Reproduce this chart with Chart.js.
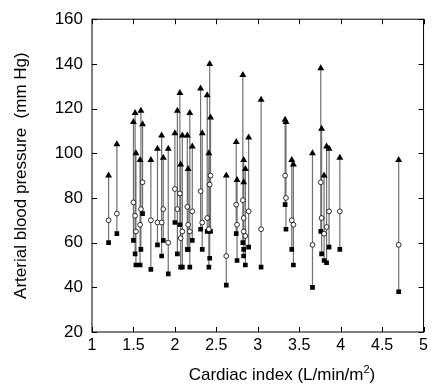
<!DOCTYPE html>
<html>
<head>
<meta charset="utf-8">
<script src="https://cdn.jsdelivr.net/npm/chart.js@4/dist/chart.umd.min.js"></script>
<style>
  body { margin: 0; background: #fff; }
  canvas { display: block; }
</style>
</head>
<body>
<canvas id="bp" width="432" height="391"></canvas>
<script>
// cardiac index for each subject (L/min/m2)
const cardiacIndex = [1.20, 1.30, 1.50, 1.52, 1.53, 1.58, 1.59, 1.61, 1.71, 1.79, 1.84, 1.86, 1.92,
  2.00, 2.03, 2.06, 2.07, 2.09, 2.15, 2.16, 2.18, 2.21, 2.31, 2.33, 2.39, 2.42, 2.43, 2.41,
  2.62, 2.74, 2.75, 2.82, 2.83, 2.83, 2.85, 2.89, 3.04, 3.33, 3.34, 3.41, 3.43, 3.66,
  3.76, 3.77, 3.80, 3.83, 3.86, 3.99, 4.70];
// systolic / mean / diastolic pressure (mm Hg)
const systolic = [90, 104, 114, 118, 100, 97, 119, 113, 97, 102, 108, 98, 102,
  109, 119, 127, 95, 108, 108, 93, 118, 103, 129, 109, 126, 140, 116, 100,
  90, 105, 88, 135, 97, 87, 93, 107, 124, 115, 114, 97, 95, 100,
  138, 111, 90, 103, 102, 98, 97];
const mean = [70, 73, 78, 72, 65, 68, 75, 87, 70, 69, 69, 75, 60,
  84, 75, 82, 62, 65, 76, 68, 65, 74, 83, 69, 71, 86, 90, 66,
  54, 77, 68, 79, 71, 65, 63, 74, 66, 90, 80, 70, 68, 59,
  87, 71, 64, 67, 74, 74, 59];
const diastolic = [60, 64, 61, 55, 50, 50, 57, 73, 48, 59, 54, 61, 46,
  69, 55, 68, 49, 49, 57, 57, 49, 61, 66, 57, 65, 53, 65, 49,
  41, 64, 52, 60, 57, 54, 50, 58, 49, 77, 66, 57, 50, 40,
  65, 55, 52, 51, 58, 57, 38];

const xTicks = [1, 1.5, 2, 2.5, 3, 3.5, 4, 4.5, 5];
const yTicks = [20, 40, 60, 80, 100, 120, 140, 160];

const FONT = "'Liberation Sans', Arial, sans-serif";

// vertical range lines, broken with nulls between subjects
const rangeLines = [];
cardiacIndex.forEach((x, i) => {
  rangeLines.push({ x: x, y: diastolic[i] });
  rangeLines.push({ x: x, y: systolic[i] });
  rangeLines.push({ x: x, y: null });
});
const pts = (arr) => cardiacIndex.map((x, i) => ({ x: x, y: arr[i] }));

// box + inward ticks + axis titles
const framePlugin = {
  id: 'frame',
  afterDraw(chart) {
    const { ctx, chartArea: a, scales } = chart;
    ctx.save();
    ctx.strokeStyle = '#000';
    ctx.lineWidth = 1;
    ctx.strokeRect(a.left, a.top, a.right - a.left, a.bottom - a.top);
    ctx.beginPath();
    xTicks.forEach(v => {
      const px = Math.round(scales.x.getPixelForValue(v)) + 0.5;
      ctx.moveTo(px, a.bottom); ctx.lineTo(px, a.bottom - 5);
      ctx.moveTo(px, a.top); ctx.lineTo(px, a.top + 5);
    });
    yTicks.forEach(v => {
      const py = Math.round(scales.y.getPixelForValue(v)) + 0.5;
      ctx.moveTo(a.left, py); ctx.lineTo(a.left + 5, py);
      ctx.moveTo(a.right, py); ctx.lineTo(a.right - 5, py);
    });
    ctx.stroke();

    ctx.fillStyle = '#000';
    ctx.font = '17px ' + FONT;
    // y title
    ctx.save();
    ctx.translate(21, (a.top + a.bottom) / 2);
    ctx.rotate(-Math.PI / 2);
    ctx.textAlign = 'center';
    ctx.textBaseline = 'middle';
    ctx.fillText('Arterial blood pressure  (mm Hg)', 0, 0);
    ctx.restore();
    // x title with superscript
    const main = 'Cardiac index (L/min/m';
    ctx.font = '17px ' + FONT;
    const w1 = ctx.measureText(main).width;
    ctx.font = '11px ' + FONT;
    const w2 = ctx.measureText('2').width;
    ctx.font = '17px ' + FONT;
    const w3 = ctx.measureText(')').width;
    let x0 = 282 - (w1 + w2 + w3) / 2;
    const base = 380;
    ctx.textAlign = 'left';
    ctx.textBaseline = 'alphabetic';
    ctx.fillText(main, x0, base);
    ctx.font = '11px ' + FONT;
    ctx.fillText('2', x0 + w1, base - 7);
    ctx.font = '17px ' + FONT;
    ctx.fillText(')', x0 + w1 + w2, base);
    ctx.restore();
  }
};

const bpChart = new Chart(document.getElementById('bp').getContext('2d'), {
  type: 'scatter',
  data: {
    datasets: [
      {
        label: 'range',
        data: rangeLines,
        showLine: true,
        spanGaps: false,
        borderColor: '#707070',
        borderWidth: 1.2,
        pointRadius: 0,
        order: 4
      },
      {
        label: 'diastolic',
        data: pts(diastolic),
        pointStyle: 'rect',
        pointRadius: 3.3,
        backgroundColor: '#000',
        borderColor: '#000',
        borderWidth: 0,
        order: 3
      },
      {
        label: 'mean',
        data: pts(mean),
        pointStyle: 'circle',
        pointRadius: 2.4,
        backgroundColor: '#fff',
        borderColor: '#000',
        borderWidth: 0.8,
        order: 2
      },
      {
        label: 'systolic',
        data: pts(systolic),
        pointStyle: 'triangle',
        pointRadius: 4,
        backgroundColor: '#000',
        borderColor: '#000',
        borderWidth: 0,
        order: 1
      }
    ]
  },
  options: {
    responsive: false,
    animation: false,
    layout: { padding: { left: 0, top: 15, right: 7, bottom: 0 } },
    plugins: { legend: { display: false }, tooltip: { enabled: false } },
    scales: {
      x: {
        type: 'linear',
        min: 1,
        max: 5,
        afterFit: (s) => { s.height = 59; },
        afterBuildTicks: (s) => { s.ticks = xTicks.map(v => ({ value: v })); },
        grid: { display: false, drawTicks: false },
        border: { display: false },
        ticks: {
          color: '#000',
          padding: 4,
          font: { family: FONT, size: 16 },
          callback: (v) => String(v)
        }
      },
      y: {
        min: 20,
        max: 160,
        afterFit: (s) => { s.width = 92; },
        afterBuildTicks: (s) => { s.ticks = yTicks.map(v => ({ value: v })); },
        grid: { display: false, drawTicks: false },
        border: { display: false },
        ticks: { color: '#000', padding: 9, font: { family: FONT, size: 17 } }
      }
    }
  },
  plugins: [framePlugin]
});
</script>
</body>
</html>
